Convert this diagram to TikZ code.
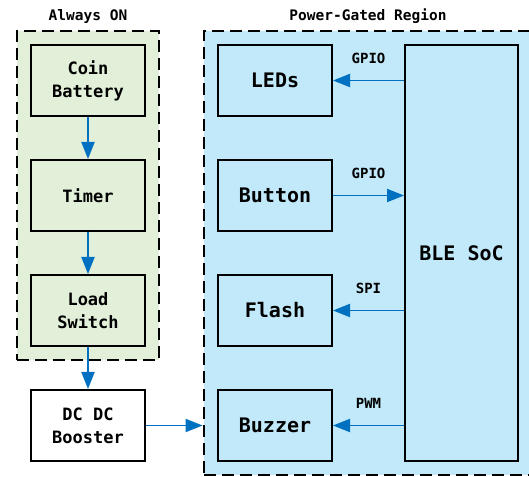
\documentclass[tikz,border=0pt]{standalone}
\usepackage{fontspec}
\setmonofont{DejaVu Sans Mono}
\usetikzlibrary{arrows.meta, positioning, fit, backgrounds}
\definecolor{alwaysgreen}{RGB}{226,240,217}
\definecolor{gatedblue}{RGB}{193,233,249}
\definecolor{linkblue}{RGB}{0,112,192}

\begin{document}
\begin{tikzpicture}[
  x=1pt, y=1pt,
  node distance=42pt and 71pt,
  blk/.style={rectangle, draw=black, line width=2pt,
              minimum width=114pt, minimum height=71pt, inner sep=0pt,
              font=\ttfamily\bfseries\fontsize{17}{23}\selectfont, align=center},
  bigblk/.style={blk, font=\ttfamily\bfseries\fontsize{20}{24}\selectfont},
  region/.style={rectangle, draw=black, line width=2.6pt,
                 dash pattern=on 12pt off 6pt, inner sep=13pt},
  title/.style={font=\ttfamily\bfseries\fontsize{14.5}{17}\selectfont},
  sig/.style={font=\ttfamily\bfseries\fontsize{14}{17}\selectfont},
  arr/.style={-{Triangle[length=17pt, width=13pt]}, line width=1.9pt, draw=linkblue},
]
  \useasboundingbox (0,0) rectangle (529,476);

  % always-on chain
  \node[blk] (coin) at (88,395.5) {Coin\\Battery};
  \node[blk, below=of coin] (timer) {Timer};
  \node[blk, below=of timer] (load) {Load\\Switch};
  \node[blk, fill=white, below=of load] (boost) {DC DC\\Booster};

  % gated peripherals
  \node[bigblk] (leds) at (275,395.5) {LEDs};
  \node[bigblk, below=of leds] (button) {Button};
  \node[bigblk, below=of button] (flash) {Flash};
  \node[bigblk, below=of flash] (buzzer) {Buzzer};
  \node[bigblk, minimum width=113pt, minimum height=416pt] (soc) at (461.5,223) {BLE SoC};

  \begin{scope}[on background layer]
    \node[region, fill=alwaysgreen, fit=(coin)(load)] (alwayson) {};
    \node[region, fill=gatedblue, fit=(leds)(buzzer)(soc)] (gated) {};
  \end{scope}
  \node[title, above=3pt of alwayson] (alwaystitle) {Always ON};
  \node[title, above=3pt of gated] (gatedtitle) {Power-Gated Region};

  \draw[arr] (coin) -- (timer);
  \draw[arr] (timer) -- (load);
  \draw[arr] (load) -- (boost);
  \draw[arr] (boost) -- (boost -| gated.west);

  \draw[arr] (soc.west |- leds) -- node[sig, above=13pt] (gpioleds) {GPIO} (leds);
  \draw[arr] (button) -- node[sig, above=13pt] (gpiobutton) {GPIO} (soc.west |- button);
  \draw[arr] (soc.west |- flash) -- node[sig, above=13pt] (spiflash) {SPI} (flash);
  \draw[arr] (soc.west |- buzzer) -- node[sig, above=13pt] (pwmbuzzer) {PWM} (buzzer);
\end{tikzpicture}
\end{document}
